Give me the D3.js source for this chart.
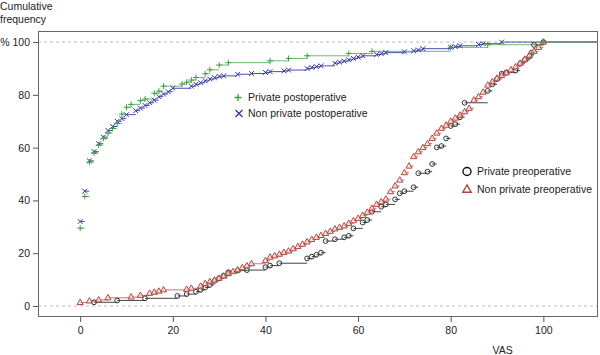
<!DOCTYPE html>
<html>
<head>
<meta charset="utf-8">
<script src="https://cdn.jsdelivr.net/npm/d3@7"></script>
<style>
  html, body { margin: 0; padding: 0; background: #fff; }
  svg { display: block; font-family: "Liberation Sans", Arial, sans-serif; }
</style>
</head>
<body>
<svg id="chart" width="600" height="355"></svg>
<script>
// ---- Data (VAS, cumulative %) ----
const privatePostVAS = [0,1,2,3,4,5,6,7,8,9,10,11,13,14,16,17,18,22,23,24,25,27,28,30,32,41,45,49,58,63,80,88,100];
const privatePostPct = [29.5,41.5,54.5,58,61,63.5,65.5,67.3,69.2,72.7,75.3,76.4,77.8,78.4,80.6,81.4,83.3,84.1,84.8,85.6,86.6,88,89.5,91.3,92.2,92.9,93.8,94.8,95.7,96.5,98,99,100];

const nonPrivatePostVAS = [0,1,2,3,4,5,6,7,8,9,10,12,13,14,15,16,17,18,19,20,24,25,26,27,28,29,30,31,34,37,40,41,44,45,49,50,51,52,55,56,57,58,59,60,61,64,65,66,70,72,73,74,80,81,82,86,87,91];
const nonPrivatePostPct = [32,43.5,55,58.5,61.5,64,66.5,68,70,71,72.5,74,75,76,77,78,79.3,80.3,81.2,82.5,83.3,84,84.6,85.3,86,86.5,87,87.2,87.8,88.1,88.5,88.8,89.1,89.4,90,90.4,90.7,91,92,92.4,92.8,93.3,93.8,94.3,94.8,95.3,95.6,96,96.3,96.7,97,97.5,98,98.3,98.6,99.1,99.4,100];

const privatePreVAS = [3,8,14,21,23,25,26,27,28,29,30,31,32,34,36,40,41,43,49,50,51,52,53,55,57,58,59,61,62,63,65,66,68,69,70,72,73,75,76,77,78,79,80,81,82,83,88,89,90,91,92,94,95,96,97,97.5,98,100];
const privatePrePct = [1.4,2.1,2.9,3.8,4.5,5.4,6.1,7,8,9.5,10.5,11.5,12.8,13.4,13.6,14.7,15.3,16.2,18,18.7,19.4,20.2,24.6,25.3,26,26.6,29.4,31.6,32.6,35.7,37.6,38.5,40.4,42.7,43.5,45,50.3,50.9,53.8,60.1,60.6,63.5,68.2,68.9,71.5,77,81.5,84,86,88,88.5,89.2,91.8,93.2,94.5,96,98.9,100];

const nonPrivatePreVAS = [0,2,4,6,11,13,15,16,17,18,23,24,26,27,28,29,30,31,32,33,34,35,36,37,40,41,42,43,44,45,46,47,48,49,50,51,52,53,54,55,56,57,58,59,60,61,62,63,64,65,66,67,68,69,70,71,72,73,74,75,76,77,78,79,80,81,82,83,84,85,86,87,88,89,90,91,92,93,94,95,96,97,98,99,100];
const nonPrivatePrePct = [1.3,1.9,2.3,3.1,3.4,4,4.8,5.2,5.6,6.1,6.3,6.7,7.5,8.5,9.2,9.8,10.5,11.3,12.3,13,13.7,14.5,15.2,16,17.2,18.5,19,19.6,20.3,20.8,21.7,22.5,23.4,24.3,25.2,26,26.7,27.5,28.3,29.2,29.8,30.3,31.3,32.3,33.2,34.3,35.5,37,38.5,39.5,40.5,43.3,45.5,47.7,50.5,53,56.6,58.4,60,61.5,63.5,65.5,67.3,68.5,70,71.2,72.3,73.6,74.9,78,79.3,81,83.7,85,86.3,87.3,88.3,89.5,90.6,92,93.5,95,96.5,98,100];

const xTicks = [0,20,40,60,80,100];
const yTicks = [0,20,40,60,80,100];
const yTickLabels = ["0","20","40","60","80","% 100"];
const legendPost = ["Private postoperative","Non private postoperative"];
const legendPre = ["Private preoperative","Non private preoperative"];

// ---- Layout ----
const svg = d3.select("#chart");
const L = 38, R = 598, T = 31, B = 316;
const x = d3.scaleLinear().domain([-9.1, 111.8]).range([L, R]);
const y = d3.scaleLinear().domain([-3.8, 104.2]).range([B, T]);
const FS = 10.5;

// reference dashed lines
[0,100].forEach(v => {
  svg.append("line").attr("x1", L).attr("x2", R).attr("y1", y(v)).attr("y2", y(v))
    .attr("stroke", "#bbb").attr("stroke-dasharray", "3,3").attr("stroke-width", 1);
});

// axes
const xAxis = d3.axisBottom(x).tickValues(xTicks).tickSize(6).tickPadding(5).tickFormat(d3.format("d"));
const gx = svg.append("g").attr("transform", `translate(0,${B})`).call(xAxis);
gx.select(".domain").remove();
gx.selectAll("line").attr("stroke", "#555");
gx.selectAll("text").attr("font-size", FS).attr("fill", "#222").attr("font-family", "Liberation Sans, Arial, sans-serif");

const yAxis = d3.axisLeft(y).tickValues(yTicks).tickSize(5).tickPadding(3)
  .tickFormat((d, i) => yTickLabels[i]);
const gy = svg.append("g").attr("transform", `translate(${L},0)`).call(yAxis);
gy.select(".domain").remove();
gy.selectAll("line").attr("stroke", "#555");
gy.selectAll("text").attr("font-size", FS).attr("fill", "#222").attr("font-family", "Liberation Sans, Arial, sans-serif");

// frame
svg.append("rect").attr("x", L + 0.5).attr("y", T + 0.5).attr("width", R - L - 1).attr("height", B - T)
  .attr("fill", "none").attr("stroke", "#666").attr("stroke-width", 1);

// titles
svg.append("text").attr("x", 0).attr("y", 10).attr("font-size", FS).attr("fill", "#222").text("Cumulative");
svg.append("text").attr("x", 0).attr("y", 23).attr("font-size", FS).attr("fill", "#222").text("frequency");
svg.append("text").attr("x", x(91.2)).attr("y", 354).attr("text-anchor", "middle").attr("font-size", FS).attr("fill", "#222").text("VAS");

// ---- ECDF drawing ----
function zip(xs, ys) { return xs.map((v, i) => ({ x: v, y: ys[i] })); }

function drawSteps(data, color, width) {
  const g = svg.append("g");
  data.forEach((d, i) => {
    const nx = i < data.length - 1 ? data[i + 1].x : x.domain()[1];
    g.append("line").attr("x1", x(d.x)).attr("x2", x(nx)).attr("y1", y(d.y)).attr("y2", y(d.y))
      .attr("stroke", color).attr("stroke-width", width);
  });
}

const sym = {
  circle: (g, cx, cy, s, c, w, f) => g.append("circle").attr("cx", cx).attr("cy", cy).attr("r", s)
    .attr("fill", f || "none").attr("stroke", c).attr("stroke-width", w),
  triangle: (g, cx, cy, s, c, w, f) => g.append("path")
    .attr("d", `M${cx},${cy - s * 1.1}L${cx + s},${cy + s * 0.65}L${cx - s},${cy + s * 0.65}Z`)
    .attr("fill", f || "none").attr("stroke", c).attr("stroke-width", w),
  plus: (g, cx, cy, s, c, w) => g.append("path")
    .attr("d", `M${cx - s},${cy}H${cx + s}M${cx},${cy - s}V${cy + s}`)
    .attr("fill", "none").attr("stroke", c).attr("stroke-width", w),
  cross: (g, cx, cy, s, c, w) => g.append("path")
    .attr("d", `M${cx - s},${cy - s}L${cx + s},${cy + s}M${cx - s},${cy + s}L${cx + s},${cy - s}`)
    .attr("fill", "none").attr("stroke", c).attr("stroke-width", w)
};

function drawMarks(data, kind, size, color, width, fill) {
  const g = svg.append("g");
  data.forEach(d => sym[kind](g, x(d.x), y(d.y), size, color, width, fill));
}

const series = [
  { data: zip(privatePreVAS, privatePrePct), line: "#444", mark: "#333", kind: "circle", size: 2.4, fill: "none" },
  { data: zip(nonPrivatePreVAS, nonPrivatePrePct), line: "#c27a74", mark: "#b4453e", kind: "triangle", size: 3.1, fill: "rgba(250,225,222,0.6)" },
  { data: zip(nonPrivatePostVAS, nonPrivatePostPct), line: "#4c4cb5", mark: "#33339f", kind: "cross", size: 2.4 },
  { data: zip(privatePostVAS, privatePostPct), line: "#6dba6d", mark: "#3c9c44", kind: "plus", size: 3 }
];
series.forEach(s => drawSteps(s.data, s.line, 1));
series.forEach(s => drawMarks(s.data, s.kind, s.size, s.mark, 1, s.fill));

// ---- legends ----
const lg1 = svg.append("g");
sym.plus(lg1, 238, 97.5, 3.5, "#3c9c44", 1.3);
sym.cross(lg1, 239, 113.5, 3.5, "#33339f", 1.3);
lg1.append("text").attr("x", 248).attr("y", 97.5).attr("dy", "0.35em").attr("font-size", FS).attr("fill", "#222").text(legendPost[0]);
lg1.append("text").attr("x", 248).attr("y", 113.5).attr("dy", "0.35em").attr("font-size", FS).attr("fill", "#222").text(legendPost[1]);

const lg2 = svg.append("g");
sym.circle(lg2, 467, 171.5, 4, "#111", 1.4);
sym.triangle(lg2, 467, 189.5, 4.2, "#b4453e", 1.4);
lg2.append("text").attr("x", 477).attr("y", 171.5).attr("dy", "0.35em").attr("font-size", FS).attr("fill", "#222").text(legendPre[0]);
lg2.append("text").attr("x", 477).attr("y", 189).attr("dy", "0.35em").attr("font-size", FS).attr("fill", "#222").text(legendPre[1]);
</script>
</body>
</html>
